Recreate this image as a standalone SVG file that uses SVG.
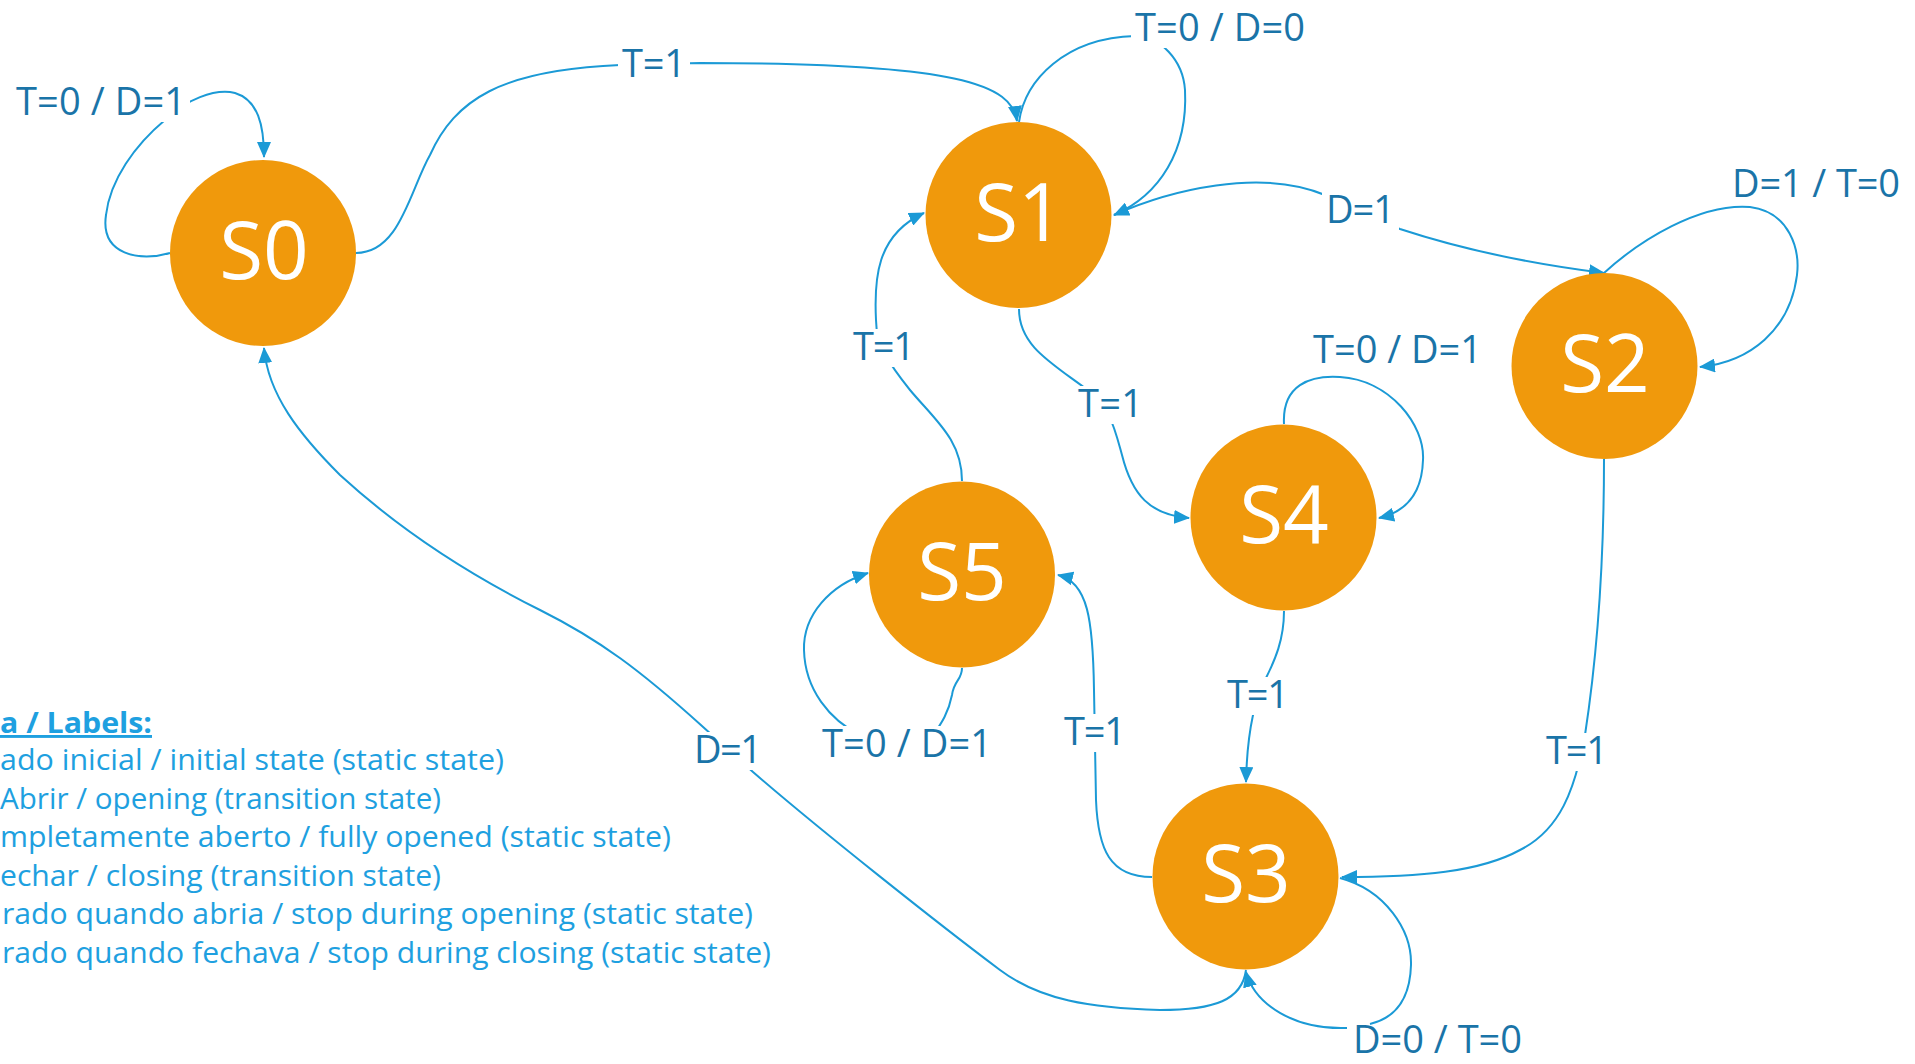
<svg xmlns="http://www.w3.org/2000/svg" width="1915" height="1064" viewBox="0 0 1915 1064">
<defs>
<marker id="arr" markerUnits="userSpaceOnUse" markerWidth="16" markerHeight="14" viewBox="0 0 16 14" refX="15" refY="7" orient="auto">
<path d="M0,0 L16,7 L0,14 z" fill="#1B9AD6"/>
</marker>
<style>
.node circle{fill:#F0990C}
.node text{font-family:"Open Sans","Noto Sans","DejaVu Sans",sans-serif;font-size:80px;fill:#FFFFFF;text-anchor:middle}
.edge{fill:none;stroke:#1B9AD6;stroke-width:2;marker-end:url(#arr)}
.lbl rect{fill:#FFFFFF}
.lbl text{font-family:"Open Sans","Noto Sans","DejaVu Sans",sans-serif;font-size:38px;fill:#1A74A8}
.legend text{font-family:"Open Sans","Noto Sans","DejaVu Sans",sans-serif;font-size:29px;fill:#1EA0E0}
.legend .head{font-weight:bold;text-decoration:underline}
</style>
</defs>
<rect x="0" y="0" width="1915" height="1064" fill="#FFFFFF"/>

<g id="connectors">
<path class="edge" d="M170,253 C140,262 100,255 106,215 C110,180 135,145 165,120 C185,100 215,88 235,93 C258,100 264,125 264,157"/>
<path class="edge" d="M356,253 C400,253 410,190 430,155 C455,100 500,70 620,65 L700,63 C960,63 1012,85 1017,121"/>
<path class="edge" d="M1019,122 C1025,80 1065,38 1135,36 C1160,36 1183,60 1185,90 C1188,150 1160,195 1114,215"/>
<path class="edge" d="M1114,215 C1170,190 1260,168 1325,195 C1345,205 1370,218 1400,229 C1470,252 1540,265 1604,273"/>
<path class="edge" d="M1604,273 C1640,240 1700,203 1750,207 C1790,212 1800,250 1797,275 C1790,330 1750,362 1700,367"/>
<path class="edge" d="M1019,309 C1019,345 1050,362 1085,388 C1110,405 1115,430 1122,455 C1132,495 1150,515 1189,518"/>
<path class="edge" d="M1284,424 C1282,385 1310,375 1340,377 C1390,380 1425,425 1423,460 C1422,495 1405,512 1379,518"/>
<path class="edge" d="M1284,611 C1284,640 1275,660 1265,680 C1252,705 1247,740 1246,782"/>
<path class="edge" d="M1604,459 C1604,560 1598,650 1585,735 C1575,790 1560,830 1520,850 C1480,872 1420,877 1342,877"/>
<path class="edge" d="M1152,877 C1110,877 1098,850 1096,800 L1094,690 C1093,620 1088,582 1058,575"/>
<path class="edge" d="M962,481 C962,440 935,420 910,390 C890,365 876,345 876,320 C874,280 876,235 924,213"/>
<path class="edge" d="M962,668 C962,680 954,680 952,695 C948,715 940,725 930,740 L860,735 C830,720 805,690 804,650 C803,615 830,585 868,573"/>
<path class="edge" d="M1340,878 C1385,890 1412,930 1411,965 C1410,1000 1395,1018 1370,1024 M1347,1028 C1295,1030 1255,1005 1246,972"/>
<path class="edge" d="M1246,970 C1242,1000 1215,1010 1160,1010 C1090,1008 1040,1000 1000,970 C940,925 820,830 753,772 L702,726 C640,670 600,640 540,610 C470,575 400,530 340,475 C300,435 268,395 264,348"/>

<g class="lbl"><rect x="12" y="84" width="178" height="38"/><text x="16" y="115" textLength="170">T=0 / D=1</text></g>
<g class="lbl"><rect x="618" y="46" width="72" height="38"/><text x="622" y="77" textLength="64">T=1</text></g>
<g class="lbl"><rect x="1131" y="10" width="178" height="38"/><text x="1135" y="41" textLength="170">T=0 / D=0</text></g>
<g class="lbl"><rect x="1322" y="192" width="77" height="38"/><text x="1326" y="223" textLength="69">D=1</text></g>
<g class="lbl"><rect x="1728" y="166" width="176" height="36"/><text x="1732" y="197" textLength="168">D=1 / T=0</text></g>
<g class="lbl"><rect x="1309" y="332" width="177" height="38"/><text x="1313" y="363" textLength="169">T=0 / D=1</text></g>
<g class="lbl"><rect x="1074" y="386" width="73" height="38"/><text x="1078" y="417" textLength="65">T=1</text></g>
<g class="lbl"><rect x="849" y="329" width="70" height="38"/><text x="853" y="360" textLength="62">T=1</text></g>
<g class="lbl"><rect x="1223" y="677" width="70" height="38"/><text x="1227" y="708" textLength="62">T=1</text></g>
<g class="lbl"><rect x="1060" y="714" width="70" height="38"/><text x="1064" y="745" textLength="62">T=1</text></g>
<g class="lbl"><rect x="1542" y="733" width="70" height="38"/><text x="1546" y="764" textLength="62">T=1</text></g>
<g class="lbl"><rect x="1349" y="1027" width="177" height="37"/><text x="1353" y="1053" textLength="169">D=0 / T=0</text></g>
<g class="lbl"><rect x="690" y="732" width="76" height="38"/><text x="694" y="763" textLength="68">D=1</text></g>
<g class="lbl"><rect x="818" y="726" width="178" height="38"/><text x="822" y="757" textLength="170">T=0 / D=1</text></g>
</g>

<g id="S0" class="node"><circle cx="263" cy="253" r="93"/><text x="264" y="279">S0</text></g>
<g id="S1" class="node"><circle cx="1018.5" cy="215" r="93"/><text x="1019" y="241">S1</text></g>
<g id="S2" class="node"><circle cx="1604.5" cy="366" r="93"/><text x="1605" y="392">S2</text></g>
<g id="S3" class="node"><circle cx="1245.5" cy="876.5" r="93"/><text x="1246" y="902">S3</text></g>
<g id="S4" class="node"><circle cx="1283.5" cy="517.5" r="93"/><text x="1284" y="543">S4</text></g>
<g id="S5" class="node"><circle cx="962" cy="574.5" r="93"/><text x="962" y="600">S5</text></g>

<g id="legend" class="legend">
<text class="head" x="0" y="733" textLength="152" lengthAdjust="spacingAndGlyphs">a / Labels:</text>
<text x="0" y="770" textLength="504" lengthAdjust="spacingAndGlyphs">ado inicial / initial state (static state)</text>
<text x="0" y="809" textLength="441" lengthAdjust="spacingAndGlyphs">Abrir / opening (transition state)</text>
<text x="0" y="847" textLength="671" lengthAdjust="spacingAndGlyphs">mpletamente aberto / fully opened (static state)</text>
<text x="0" y="886" textLength="441" lengthAdjust="spacingAndGlyphs">echar / closing (transition state)</text>
<text x="2" y="924" textLength="751" lengthAdjust="spacingAndGlyphs">rado quando abria / stop during opening (static state)</text>
<text x="2" y="963" textLength="769" lengthAdjust="spacingAndGlyphs">rado quando fechava / stop during closing (static state)</text>
</g>
</svg>
